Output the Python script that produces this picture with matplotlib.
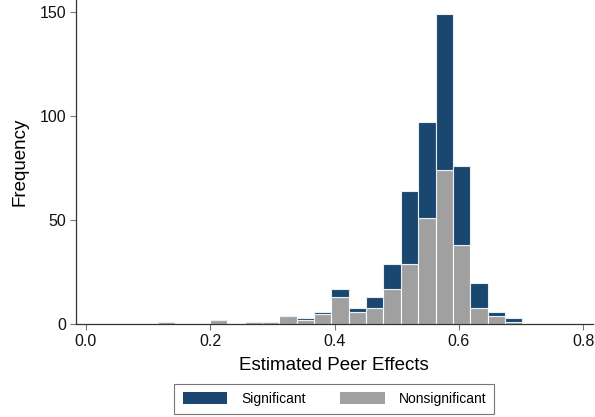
import numpy as np
import matplotlib
matplotlib.use('Agg')
import matplotlib.pyplot as plt
from matplotlib.patches import Patch

# histogram bins (Stata style: start at min, fixed width)
bin_start = 0.116
bin_width = 0.0279
# counts per bin
nonsig = [1, 0, 0, 2, 0, 1, 1, 4, 2, 5, 13, 6, 8, 17, 29, 51, 74, 38, 8, 4, 1]
sig = [0, 0, 0, 0, 0, 0, 0, 0, 1, 1, 4, 2, 5, 12, 35, 46, 75, 38, 12, 2, 2]

x_ticks = [0.0, 0.2, 0.4, 0.6, 0.8]
y_ticks = [0, 50, 100, 150]

navy = '#1a476f'
grey = '#a0a0a0'

plt.rcParams['font.family'] = ['Liberation Sans', 'DejaVu Sans']

left_edges = bin_start + bin_width * np.arange(len(nonsig))

fig = plt.figure(figsize=(5.95, 4.17), dpi=100)
ax = fig.add_axes([0.1272, 0.2223, 0.8694, 0.7777])

ax.bar(left_edges, nonsig, width=bin_width, align='edge', color=grey,
       edgecolor='white', linewidth=0.8)
ax.bar(left_edges, sig, width=bin_width, bottom=nonsig, align='edge',
       color=navy, edgecolor='#e8eef4', linewidth=0.8)

ax.set_xlim(-0.0161, 0.8155)
ax.set_ylim(0, 155.6)
ax.set_xticks(x_ticks)
ax.set_xticklabels(['%.1f' % v for v in x_ticks])
ax.set_yticks(y_ticks)

for s in ['top', 'right']:
    ax.spines[s].set_visible(False)
for s in ['left', 'bottom']:
    ax.spines[s].set_color('#333333')
    ax.spines[s].set_linewidth(0.9)
ax.tick_params(axis='both', length=4, width=0.8, color='#777777',
               labelsize=11.5, labelcolor='#111111', pad=3)

ax.set_xlabel('Estimated Peer Effects', fontsize=13.5, labelpad=6)
ax.set_ylabel('Frequency', fontsize=13.5, labelpad=8)

handles = [Patch(facecolor=navy, edgecolor='none', label='Significant'),
           Patch(facecolor=grey, edgecolor='none', label='Nonsignificant')]
leg = fig.legend(handles=handles, loc='lower center', ncol=2,
                 bbox_to_anchor=(0.562, 0.003), frameon=True, fancybox=False,
                 fontsize=10, handlelength=3.2, handleheight=1.0,
                 columnspacing=2.5, handletextpad=1.0, borderpad=0.6,
                 borderaxespad=0.1)
leg.get_frame().set_edgecolor('#555555')
leg.get_frame().set_linewidth(0.8)

fig.savefig('out.png', dpi=100)
